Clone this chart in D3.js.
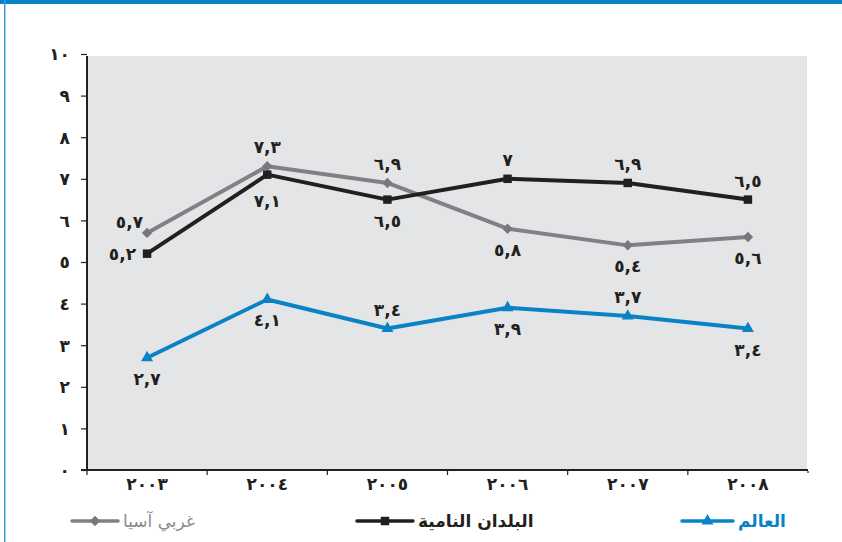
<!DOCTYPE html>
<html>
<head>
<meta charset="utf-8">
<script src="https://cdn.jsdelivr.net/npm/d3@7"></script>
<style>
  html, body { margin: 0; padding: 0; background: #ffffff; }
  svg { display: block; }
  text { font-family: "DejaVu Sans", sans-serif; }
</style>
</head>
<body>
<div id="chart"></div>
<script>
// Years on the horizontal axis and their Arabic-Indic labels
const years = ["2003", "2004", "2005", "2006", "2007", "2008"];
const yearLabels = ["٢٠٠٣", "٢٠٠٤", "٢٠٠٥", "٢٠٠٦", "٢٠٠٧", "٢٠٠٨"];

// Vertical axis ticks
const yTicks = [0, 1, 2, 3, 4, 5, 6, 7, 8, 9, 10];
const yTickLabels = ["٠", "١", "٢", "٣", "٤", "٥", "٦", "٧", "٨", "٩", "١٠"];

// Series names (legend)
const seriesNames = ["غربي آسيا", "البلدان النامية", "العالم"];

// Series values
const westAsia = [5.7, 7.3, 6.9, 5.8, 5.4, 5.6];
const developing = [5.2, 7.1, 6.5, 7.0, 6.9, 6.5];
const world = [2.7, 4.1, 3.4, 3.9, 3.7, 3.4];

// Which side of each point its value label sits on
const westAsiaLabelSide = ["upLeft", "up", "up", "down", "down", "down"];
const developingLabelSide = ["left", "downFar", "down", "up", "up", "up"];
const worldLabelSide = ["down", "down", "up", "down", "up", "down"];

const W = 842, H = 542;
const svg = d3.select("#chart").append("svg")
  .attr("width", W).attr("height", H);

// Frame: heavy top rule and thin left rule
svg.append("rect").attr("x", 0).attr("y", 0).attr("width", W).attr("height", 4).attr("fill", "#0a83c6");
svg.append("rect").attr("x", 4).attr("y", 0).attr("width", 1.5).attr("height", H).attr("fill", "#3d9ad3");

const x = d3.scaleBand().domain(years).range([87, 808]);
const y = d3.scaleLinear().domain([0, 10]).range([470, 54]);

// Plot background
svg.append("rect")
  .attr("x", x.range()[0]).attr("y", 56)
  .attr("width", x.range()[1] - x.range()[0] - 1).attr("height", y(0) - 56)
  .attr("fill", "#e4e5e6");

// Y axis ticks and labels
const yAxis = d3.axisLeft(y)
  .tickValues(yTicks)
  .tickSize(6)
  .tickPadding(11)
  .tickFormat((d, i) => yTickLabels[i]);
const gy = svg.append("g").attr("transform", `translate(${x.range()[0]},0)`).call(yAxis);
gy.select(".domain").remove();
gy.selectAll(".tick line").attr("stroke", "#231f20").attr("stroke-width", 1.2);
gy.selectAll(".tick text")
  .attr("fill", "#231f20")
  .attr("font-size", 17)
  .attr("font-weight", "bold")
  .attr("dy", "0.35em");

// X axis labels at band centres
const xAxis = d3.axisBottom(x)
  .tickSize(0)
  .tickPadding(8)
  .tickFormat((d, i) => yearLabels[i]);
const gx = svg.append("g").attr("transform", `translate(0,${y(0)})`).call(xAxis);
gx.select(".domain").remove();
gx.selectAll(".tick text")
  .attr("fill", "#231f20")
  .attr("font-size", 17)
  .attr("font-weight", "bold");

// Tick marks on the band boundaries
const bounds = years.map(d => x(d));
svg.append("g").selectAll("line").data(bounds).join("line")
  .attr("x1", d => d).attr("x2", d => d)
  .attr("y1", y(0)).attr("y2", y(0) + 5)
  .attr("stroke", "#231f20").attr("stroke-width", 1.2);
svg.append("line")
  .attr("x1", x.range()[1]).attr("x2", x.range()[1])
  .attr("y1", y(0) + 1).attr("y2", y(0) + 3)
  .attr("stroke", "#231f20").attr("stroke-width", 1.2);

// Axis lines
svg.append("line")
  .attr("x1", x.range()[0]).attr("x2", x.range()[0])
  .attr("y1", 56).attr("y2", y(0) + 1)
  .attr("stroke", "#231f20").attr("stroke-width", 2);
svg.append("line")
  .attr("x1", x.range()[0] - 6).attr("x2", x.range()[1])
  .attr("y1", y(0)).attr("y2", y(0))
  .attr("stroke", "#231f20").attr("stroke-width", 2);

const cx = d => x(d) + x.bandwidth() / 2;

const toArabic = v => {
  const digits = "٠١٢٣٤٥٦٧٨٩";
  return String(v).replace(/[0-9]/g, c => digits[+c]).replace(".", ",");
};

// Marker shapes
const diamond = d3.symbol().type(d3.symbolDiamond2).size(70);
const square = d3.symbol().type(d3.symbolSquare).size(72);
const triangle = d3.symbol().type(d3.symbolTriangle).size(62);

const series = [
  { name: seriesNames[0], values: westAsia, sides: westAsiaLabelSide, color: "#808184", marker: diamond, markerColor: "#77787b" },
  { name: seriesNames[1], values: developing, sides: developingLabelSide, color: "#231f20", marker: square, markerColor: "#231f20" },
  { name: seriesNames[2], values: world, sides: worldLabelSide, color: "#0a83c6", marker: triangle, markerColor: "#0a83c6" }
];

const line = d3.line().x(d => cx(d.year)).y(d => y(d.value));

const sideOffset = {
  up: { dx: 0, dy: -19, anchor: "middle" },
  down: { dx: 0, dy: 21, anchor: "middle" },
  downFar: { dx: 0, dy: 26, anchor: "middle" },
  left: { dx: -11, dy: 0, anchor: "end" },
  upLeft: { dx: -4, dy: -11, anchor: "end" }
};

series.forEach(s => {
  const pts = s.values.map((v, i) => ({ year: years[i], value: v, side: s.sides[i] }));
  const g = svg.append("g");
  g.append("path")
    .attr("d", line(pts))
    .attr("fill", "none")
    .attr("stroke", s.color)
    .attr("stroke-width", 4)
    .attr("stroke-linejoin", "round");
  g.selectAll("path.mk").data(pts).join("path")
    .attr("class", "mk")
    .attr("d", s.marker)
    .attr("transform", d => `translate(${cx(d.year)},${y(d.value)})`)
    .attr("fill", s.markerColor);
  g.selectAll("text").data(pts).join("text")
    .attr("x", d => cx(d.year) + sideOffset[d.side].dx)
    .attr("y", d => y(d.value) + sideOffset[d.side].dy)
    .attr("dy", "0.35em")
    .attr("text-anchor", d => sideOffset[d.side].anchor)
    .attr("direction", "ltr")
    .attr("font-size", 17)
    .attr("font-weight", "bold")
    .attr("fill", "#231f20")
    .text(d => toArabic(d.value));
});

// Legend
const legendY = 521;
const legend = [
  { s: series[0], x0: 72, x1: 118, tx: 123, weight: "normal", textColor: "#8a8b8d" },
  { s: series[1], x0: 357, x1: 413, tx: 418, weight: "bold", textColor: "#231f20" },
  { s: series[2], x0: 682, x1: 733, tx: 738, weight: "bold", textColor: "#0a83c6" }
];
legend.forEach(l => {
  svg.append("line")
    .attr("x1", l.x0).attr("x2", l.x1)
    .attr("y1", legendY).attr("y2", legendY)
    .attr("stroke", l.s.color).attr("stroke-width", 3.5)
    .attr("stroke-linecap", "round");
  svg.append("path")
    .attr("d", l.s.marker)
    .attr("transform", `translate(${(l.x0 + l.x1) / 2},${legendY})`)
    .attr("fill", l.s.markerColor);
  svg.append("text")
    .attr("x", l.tx).attr("y", legendY)
    .attr("dy", "0.35em")
    .attr("text-anchor", "start")
    .attr("font-size", 17)
    .attr("font-weight", l.weight)
    .attr("fill", l.textColor)
    .text(l.s.name);
});
</script>
</body>
</html>
